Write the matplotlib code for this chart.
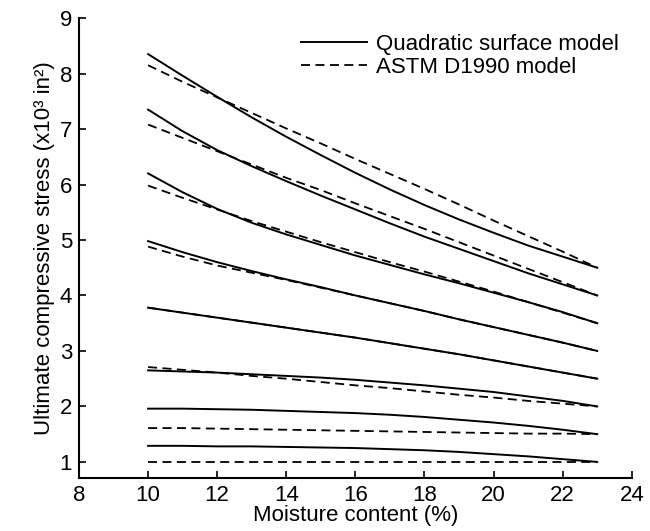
import numpy as np
import matplotlib
matplotlib.use("Agg")
import matplotlib.pyplot as plt

plt.rcParams['font.family'] = ['Liberation Sans', 'DejaVu Sans']

# moisture content (%)
mc = [10, 11, 12, 13, 14, 15, 16, 17, 18, 19, 20, 21, 22, 23]

# quadratic surface model curves (x10^3)
quad = [
    [8.35, 7.96, 7.58, 7.21, 6.86, 6.53, 6.21, 5.91, 5.63, 5.37, 5.13, 4.90, 4.70, 4.50],
    [7.35, 6.96, 6.62, 6.33, 6.06, 5.80, 5.55, 5.30, 5.06, 4.84, 4.62, 4.40, 4.20, 4.00],
    [6.20, 5.86, 5.56, 5.31, 5.10, 4.91, 4.72, 4.55, 4.38, 4.22, 4.05, 3.88, 3.70, 3.50],
    [4.98, 4.78, 4.60, 4.44, 4.29, 4.15, 4.00, 3.86, 3.72, 3.57, 3.43, 3.29, 3.15, 3.00],
    [3.78, 3.69, 3.60, 3.51, 3.42, 3.33, 3.24, 3.14, 3.04, 2.94, 2.83, 2.72, 2.61, 2.50],
    [2.65, 2.63, 2.61, 2.58, 2.55, 2.52, 2.48, 2.43, 2.38, 2.32, 2.26, 2.18, 2.10, 2.00],
    [1.96, 1.96, 1.95, 1.94, 1.92, 1.90, 1.88, 1.85, 1.81, 1.76, 1.71, 1.65, 1.58, 1.50],
    [1.29, 1.29, 1.28, 1.28, 1.27, 1.26, 1.25, 1.23, 1.21, 1.18, 1.14, 1.10, 1.05, 1.00],
]

# ASTM D1990 model curves (x10^3)
astm = [
    [8.15, 7.85, 7.57, 7.29, 7.01, 6.74, 6.46, 6.19, 5.92, 5.64, 5.35, 5.07, 4.79, 4.50],
    [7.08, 6.84, 6.60, 6.36, 6.12, 5.90, 5.66, 5.43, 5.20, 4.96, 4.72, 4.48, 4.24, 4.00],
    [5.98, 5.76, 5.55, 5.34, 5.15, 4.96, 4.78, 4.60, 4.43, 4.25, 4.07, 3.88, 3.69, 3.50],
    [4.88, 4.70, 4.54, 4.41, 4.28, 4.14, 4.00, 3.86, 3.72, 3.57, 3.43, 3.29, 3.15, 3.00],
    [3.78, 3.69, 3.60, 3.51, 3.42, 3.33, 3.24, 3.14, 3.04, 2.94, 2.83, 2.72, 2.61, 2.50],
    [2.71, 2.66, 2.61, 2.55, 2.50, 2.44, 2.38, 2.33, 2.27, 2.21, 2.16, 2.10, 2.05, 2.00],
    [1.61, 1.61, 1.60, 1.59, 1.58, 1.57, 1.56, 1.55, 1.54, 1.53, 1.52, 1.51, 1.51, 1.50],
    [1.00, 1.00, 1.00, 1.00, 1.00, 1.00, 1.00, 1.00, 1.00, 1.00, 1.00, 1.00, 1.00, 1.00],
]

fig = plt.figure(figsize=(6.5, 5.31), dpi=100)
ax = fig.add_axes([0.1215, 0.0998, 0.8505, 0.8662])

for i in range(len(quad)):
    ax.plot(mc, quad[i], color='black', lw=1.4,
            label="Quadratic surface model" if i == 0 else None)
    ax.plot(mc, astm[i], color='black', lw=1.3, dashes=(5.0, 3.0),
            label="ASTM D1990 model" if i == 0 else None)

ax.set_xlim(8, 24)
ax.set_ylim(0.71, 9)
ax.set_xticks(np.arange(8, 25, 2))
ax.set_yticks(np.arange(1, 10, 1))
ax.tick_params(direction='in', length=5, width=1.2, labelsize=16, pad=5)
for s in ['top', 'right']:
    ax.spines[s].set_visible(False)
for s in ['left', 'bottom']:
    ax.spines[s].set_linewidth(1.5)

ax.set_xlabel("Moisture content (%)", fontsize=16, labelpad=-1)
ax.set_ylabel("Ultimate compressive stress (x10³ in²)", fontsize=16, labelpad=3)

leg = ax.legend(loc='upper right', bbox_to_anchor=(1.005, 1.0), frameon=False,
                fontsize=16, handlelength=3.0, handletextpad=0.4,
                labelspacing=0.1, borderpad=0.2)

fig.savefig("out.png", dpi=100)
